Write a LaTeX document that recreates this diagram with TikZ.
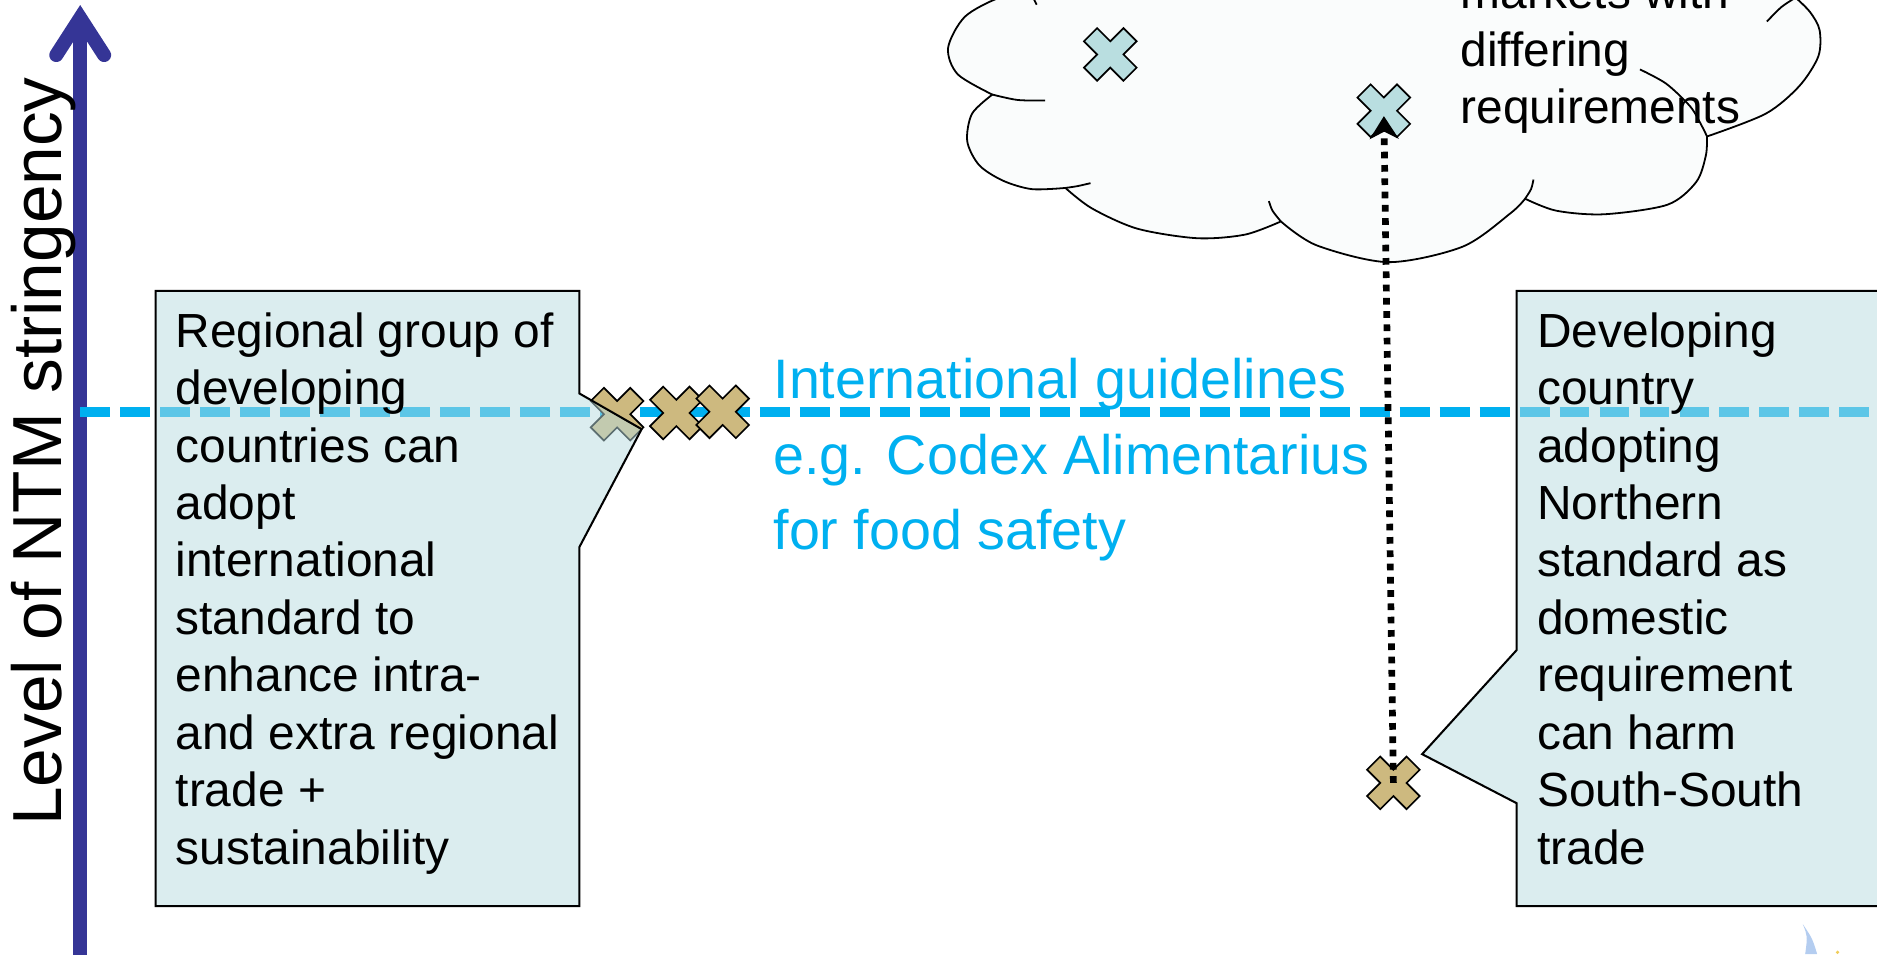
\documentclass[tikz,border=0pt]{standalone}
\usepackage{fontspec}
\setmainfont{Liberation Sans}
\usetikzlibrary{arrows.meta}
\definecolor{axisblue}{RGB}{53,53,150}
\definecolor{guideblue}{RGB}{0,176,240}
\definecolor{boxfill}{RGB}{184,220,224}
\definecolor{tanc}{RGB}{205,185,127}
\definecolor{lightc}{RGB}{185,222,224}
\definecolor{cloudfill}{RGB}{250,252,252}
\definecolor{logoblue}{RGB}{180,205,240}
\definecolor{logoyellow}{RGB}{240,205,90}
\tikzset{
  xmark/.pic={
    \filldraw[fill=#1,draw=black,line width=1.4pt,line join=miter]
      (-11,-22) -- (0,-11) -- (11,-22) -- (22,-11) -- (11,0) -- (22,11) --
      (11,22) -- (0,11) -- (-11,22) -- (-22,11) -- (-11,0) -- (-22,-11) -- cycle;
    \coordinate (-c) at (0,0);
  },
  axisline/.style={draw=axisblue, line width=11.7pt},
  axishead/.style={draw=axisblue, line width=11.7pt, line cap=round, line join=miter},
  axislabel/.style={font=\fontsize{58}{70}\selectfont, rotate=90, anchor=base west, inner sep=0pt},
  guide/.style={draw=guideblue, line width=8pt, dash pattern=on 25pt off 8.4pt},
  guidetext/.style={inner sep=0pt, anchor=base west, text=guideblue, font=\fontsize{46.5}{63}\selectfont},
  callout/.style={fill=boxfill, fill opacity=0.5, draw=black, line width=1.7pt, line join=miter},
  boxtext/.style={inner sep=0pt, anchor=base west, font=\fontsize{40}{48}\selectfont},
  cloudshape/.style={fill=cloudfill, draw=black, line width=1.5pt, line join=round},
  cloudarc/.style={draw=black, line width=1.5pt},
  dotarrow/.style={draw=black, line width=5.6pt, dash pattern=on 5.6pt off 5.5pt,
    -{Stealth[length=19pt,width=24pt,inset=6pt]}, shorten >=4.5pt}
}
\begin{document}
\begin{tikzpicture}[x=1pt,y=1pt]
\useasboundingbox (0,0) rectangle (1568,-797);
\clip (0,0) rectangle (1568,-797);

% cloud
\filldraw[cloudshape]
  plot[smooth] coordinates {(861,6) (835,2) (806,-14) (792,-40) (800,-62) (829,-79)}
  -- plot[smooth] coordinates {(829,-79) (812,-95) (808,-118) (818,-138) (838,-151) (862,-158) (890,-157)}
  -- plot[smooth] coordinates {(890,-157) (912,-174) (950,-191) (1000,-199) (1040,-196) (1070,-185)}
  -- plot[smooth] coordinates {(1070,-185) (1100,-205) (1160,-219) (1222,-206) (1262,-178) (1274,-166)}
  -- plot[smooth] coordinates {(1274,-166) (1300,-176) (1340,-179) (1393,-171) (1417,-152) (1425,-130) (1426,-114)}
  -- plot[smooth] coordinates {(1426,-114) (1475,-95) (1503,-72) (1519,-47) (1520,-25) (1512,-10) (1500,2)}
  -- (1490,40) -- (861,40) -- cycle;
\draw[cloudarc] plot[smooth] coordinates {(861,6) (864,0) (866,-4)};
\draw[cloudarc] plot[smooth] coordinates {(829,-79) (850,-83.5) (873,-84)};
\draw[cloudarc] plot[smooth] coordinates {(890,-157) (900,-155.5) (911,-153)};
\draw[cloudarc] plot[smooth] coordinates {(1070,-185) (1063,-176) (1060,-168)};
\draw[cloudarc] plot[smooth] coordinates {(1274,-166) (1279,-158) (1281,-150)};
\draw[cloudarc] plot[smooth] coordinates {(1426,-114) (1421,-104) (1412,-89) (1392,-70) (1370,-58)};
\draw[cloudarc] plot[smooth] coordinates {(1500,2) (1488,-6) (1476,-18)};
\node[boxtext] (ct) at (1220,-7.5) {\parbox[t]{300pt}{markets with\\differing\\requirements}};
\pic (c1) at (927.5,-45.5) {xmark=lightc};
\pic (c2) at (1156,-92.5) {xmark=lightc};

% axis
\coordinate (abot) at (67,-800);
\coordinate (atop) at (67,-15);
\coordinate (aleft) at (47,-46);
\coordinate (aright) at (87,-46);
\draw[axisline] (abot) -- (atop);
\draw[axishead] (aleft) -- (atop) -- (aright);
\node[axislabel] (lbl) at (51.5,-690) {Level of NTM stringency};

% international guideline
\coordinate (gl) at (67,-344);
\coordinate (gr) at (1600,-344);
\draw[guide] (gl) -- (gr);
\node[guidetext] (gt) at (646,-333) {\parbox[t]{560pt}{International guidelines\\e.g. Codex Alimentarius\\for food safety}};

% tan crosses
\pic (x1) at (515.5,-346) {xmark=tanc};
\pic (x2) at (565,-345) {xmark=tanc};
\pic (x3) at (603.7,-344) {xmark=tanc};
\pic (x4) at (1164,-654) {xmark=tanc};

% callout boxes
\filldraw[callout] (130,-243) -- (484,-243) -- (484,-328.7) -- (536,-358.5) -- (484,-457) -- (484,-757) -- (130,-757) -- cycle;
\node[boxtext] (lt) at (146.6,-290) {\parbox[t]{345pt}{Regional group of\\developing\\countries can\\adopt\\international\\standard to\\enhance intra-\\and extra regional\\trade +\\sustainability}};
\filldraw[callout] (1267,-243) -- (1620,-243) -- (1620,-757) -- (1267,-757) -- (1267,-671) -- (1188,-630) -- (1267,-543) -- cycle;
\node[boxtext] (rt) at (1284,-290) {\parbox[t]{300pt}{Developing\\country\\adopting\\Northern\\standard as\\domestic\\requirement\\can harm\\South-South\\trade}};

% dotted arrow
\draw[dotarrow] (x4-c) -- (c2-c);

% logo fragment
\fill[logoblue] (1506,-772) .. controls (1510,-782) .. (1508,-797) -- (1518,-797) .. controls (1514,-784) .. (1506,-772) -- cycle;
\fill[logoyellow] (1535,-795.5) circle (1.5);
\end{tikzpicture}
\end{document}
